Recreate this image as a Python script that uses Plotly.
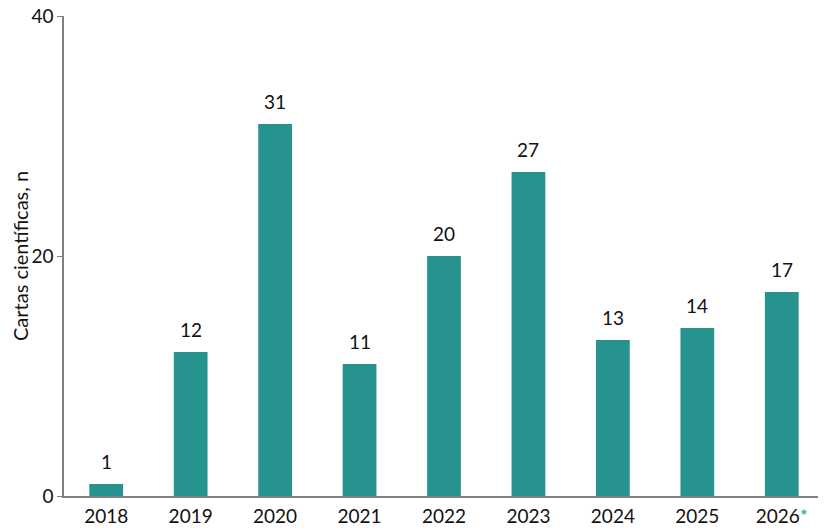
import plotly.graph_objects as go

# data
years = ["2018", "2019", "2020", "2021", "2022", "2023", "2024", "2025", "2026"]
counts = [1, 12, 31, 11, 20, 27, 13, 14, 17]
tick_labels = ["2018", "2019", "2020", "2021", "2022", "2023", "2024", "2025",
               "2026<span style='color:#27a3a0'>*</span>"]

teal = "#27938f"
axis_grey = "#7f7f7f"
font_name = "Lato, Carlito, Calibri, sans-serif"

fig = go.Figure(go.Bar(
    x=years,
    y=counts,
    marker=dict(color=teal, line=dict(width=0)),
    width=0.4,
))

# value labels above the bars (category axis: x given as category index)
for i, c in enumerate(counts):
    fig.add_annotation(
        x=i, y=c, text=str(c),
        showarrow=False, yanchor="bottom", yshift=9,
        font=dict(family=font_name, size=19, color="#111111"),
    )

# the page body adds an 8px margin, so the figure is a bit smaller than the window
fig.update_layout(
    width=818,
    height=520,
    margin=dict(l=56, r=2, t=8, b=32),
    plot_bgcolor="white",
    paper_bgcolor="white",
    showlegend=False,
    font=dict(family=font_name, size=19, color="#111111"),
)

fig.update_xaxes(
    type="category",
    range=[-0.5, len(years) - 0.5],
    tickvals=years,
    ticktext=tick_labels,
    showline=True,
    linecolor=axis_grey,
    linewidth=1.5,
    ticks="",
    ticklabelstandoff=2,
    showgrid=False,
    automargin=False,
    tickfont=dict(size=19),
)

fig.update_yaxes(
    range=[0, 40],
    tickvals=[0, 20, 40],
    showline=True,
    linecolor=axis_grey,
    linewidth=1.5,
    ticks="outside",
    ticklen=5,
    tickcolor=axis_grey,
    ticklabeloverflow="allow",
    showgrid=False,
    zeroline=False,
    automargin=False,
    title=dict(text="Cartas científicas, n", font=dict(size=20), standoff=3),
    tickfont=dict(size=19),
)

fig.write_html("out.html")
